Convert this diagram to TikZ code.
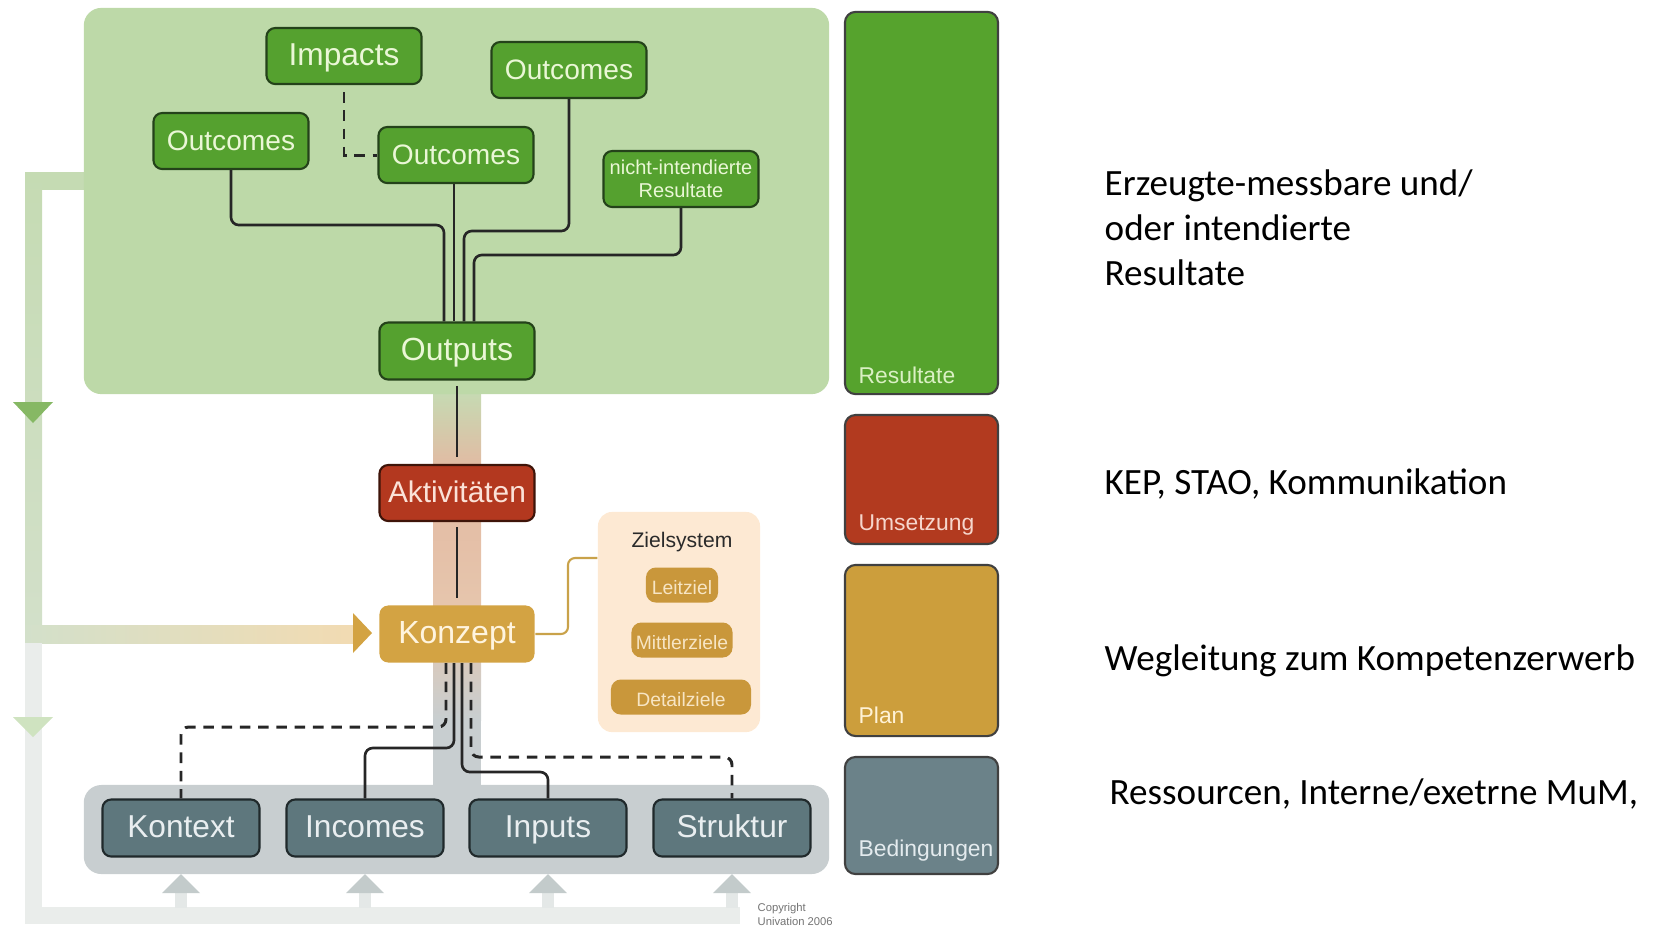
\documentclass[tikz,border=0pt]{standalone}
\usepackage{fontspec}
\setmainfont{Liberation Sans}
\newfontfamily\carl{Carlito}
\usetikzlibrary{calc}
\definecolor{panelG}{HTML}{BDD9A8}
\definecolor{boxG}{HTML}{55A12F}
\definecolor{boxGd}{HTML}{24421A}
\definecolor{txtG}{HTML}{EAF7D6}
\definecolor{redB}{HTML}{B3381F}
\definecolor{redD}{HTML}{3E1409}
\definecolor{txtR}{HTML}{FBE2D8}
\definecolor{tanB}{HTML}{D3A343}
\definecolor{txtT}{HTML}{FFF4DE}
\definecolor{zielBg}{HTML}{FDE9D3}
\definecolor{zielBox}{HTML}{C9973B}
\definecolor{txtZ}{HTML}{F7E5C4}
\definecolor{slateB}{HTML}{5E777D}
\definecolor{slateD}{HTML}{20292B}
\definecolor{txtS}{HTML}{E9EEF0}
\definecolor{grayP}{HTML}{C8CED0}
\definecolor{colRes}{HTML}{56A32D}
\definecolor{colUms}{HTML}{B23A1F}
\definecolor{colPlan}{HTML}{CC9E3C}
\definecolor{colBed}{HTML}{6B8289}
\definecolor{lblRes}{HTML}{DAF0C4}
\definecolor{lblUms}{HTML}{F6D6CC}
\definecolor{lblPlan}{HTML}{FFF2D6}
\definecolor{lblBed}{HTML}{E4EBEE}
\definecolor{bandG}{HTML}{C5DBB3}
\definecolor{bandG2}{HTML}{D3E0CA}
\definecolor{bandT}{HTML}{F2DBB2}
\definecolor{bandL}{HTML}{EAEDEB}
\definecolor{triG}{HTML}{86B864}
\definecolor{triG2}{HTML}{CFE3C0}
\definecolor{triS}{HTML}{C3CBCB}
\definecolor{stemS}{HTML}{E4E8E7}
\definecolor{salmon}{HTML}{E3B9A2}
\definecolor{salmon2}{HTML}{E6C6AD}
\definecolor{zline}{HTML}{C9A24A}
\definecolor{txtDark}{HTML}{2A2A2A}
\begin{document}
\begin{tikzpicture}[x=0.01cm,y=-0.01cm,
  tcenter/.style={text height=0.72em, text depth=0.16em},
  gbase/.style={draw=boxGd, line width=0.6pt, fill=boxG, text=txtG, rounded corners=2.5pt,
    minimum width=1.55cm, minimum height=0.56cm, inner sep=0pt, align=center},
  gbox/.style={gbase, tcenter},
  rbox/.style={draw=redD, line width=0.6pt, fill=redB, text=txtR, rounded corners=2.5pt,
    minimum width=1.55cm, minimum height=0.56cm, inner sep=0pt, tcenter},
  tbox/.style={fill=tanB, text=txtT, rounded corners=2.5pt,
    minimum width=1.55cm, minimum height=0.57cm, inner sep=0pt, tcenter},
  sbox/.style={draw=slateD, line width=0.6pt, fill=slateB, text=txtS, rounded corners=2.5pt,
    minimum width=1.57cm, minimum height=0.57cm, inner sep=0pt, tcenter, font=\fontsize{9}{10}\selectfont},
  zbox/.style={fill=zielBox, text=txtZ, rounded corners=2.8pt, minimum height=0.35cm,
    inner sep=0pt, tcenter, font=\fontsize{5.5}{6}\selectfont},
  colbox/.style={draw=black!75, line width=0.6pt, rounded corners=3pt, minimum width=1.53cm, inner sep=0pt},
  collbl/.style={anchor=west, inner sep=0pt, font=\fontsize{6.5}{7}\selectfont},
  conn/.style={draw=black!85, line width=0.75pt, rounded corners=2.2pt},
  dconn/.style={draw=black!85, line width=0.85pt, dash pattern=on 3pt off 2.2pt, rounded corners=2.2pt},
  zconn/.style={draw=zline, line width=0.6pt, rounded corners=2pt},
  rtext/.style={anchor=west, inner sep=0pt, align=left, font=\carl\fontsize{10.55}{12.8}\selectfont}
]
\useasboundingbox (0,0) rectangle (1656,926);

% ---- feedback band (left) ----
\fill[bandG] (25,172) rectangle (90,190);
\shade[top color=bandG, bottom color=bandG2] (25,172) rectangle (42,643);
\shade[left color=bandG2, right color=bandT] (25,625) rectangle (356,643);
\fill[bandL] (25,643) rectangle (42,924);
\fill[bandL] (25,907) rectangle (740,924);
\foreach \cx in {181,365,548,732}{
  \fill[stemS] (\cx-6,890) rectangle (\cx+6,908);
  \fill[triS] (\cx-19,893) -- (\cx+19,893) -- (\cx,874) -- cycle;
}
\fill[triG] (13,402) -- (53,402) -- (33,423) -- cycle;
\fill[triG2] (13,717) -- (53,717) -- (33,737) -- cycle;
\fill[tanB] (353,613) -- (372,633) -- (353,653) -- cycle;

% ---- central band ----
\shade[top color=bandG, bottom color=salmon] (433,390) rectangle (481,470);
\shade[top color=salmon, bottom color=salmon2] (433,470) rectangle (481,610);
\shade[top color=salmon2, bottom color=grayP] (433,610) rectangle (481,720);
\fill[grayP] (433,720) rectangle (481,790);

% ---- panels ----
\node[fill=panelG, rounded corners=5pt, minimum width=7.45cm, minimum height=3.86cm, inner sep=0pt] (gpanel) at (456.5,201) {};
\node[fill=grayP, rounded corners=5pt, minimum width=7.45cm, minimum height=0.89cm, inner sep=0pt] (spanel) at (456.5,829.5) {};
\node[fill=zielBg, rounded corners=4pt, minimum width=1.62cm, minimum height=2.2cm, inner sep=0pt] (ziel) at (679,622) {};

% ---- result nodes ----
\node[gbox, font=\fontsize{9}{10}\selectfont] (impacts) at (344,56) {Impacts};
\node[gbox, font=\fontsize{8}{9}\selectfont] (ocTR) at (569,70) {Outcomes};
\node[gbox, font=\fontsize{8}{9}\selectfont] (ocL) at (231,141) {Outcomes};
\node[gbox, font=\fontsize{8}{9}\selectfont] (ocM) at (456,155) {Outcomes};
\node[gbase, font=\fontsize{5.7}{6.6}\selectfont] (nicht) at (681,179) {nicht-intendierte\\Resultate};
\node[gbox, font=\fontsize{9.1}{10}\selectfont, minimum height=0.57cm] (outputs) at (457,351) {Outputs};
\node[rbox, font=\fontsize{8.5}{10}\selectfont] (aktiv) at (457,493) {Aktivitäten};
\node[tbox, font=\fontsize{9.1}{10}\selectfont] (konzept) at (457,634) {Konzept};

% ---- Zielsystem ----
\node[text=txtDark, font=\fontsize{6}{7}\selectfont, inner sep=0pt] (zieltitle) at (682,542) {Zielsystem};
\node[zbox, minimum width=0.72cm] (leitziel) at (682,585) {Leitziel};
\node[zbox, minimum width=1.01cm] (mittler) at (682,640) {Mittlerziele};
\node[zbox, minimum width=1.40cm] (detail) at (681,697) {Detailziele};

% ---- bottom nodes ----
\node[sbox] (kontext) at (181,828) {Kontext};
\node[sbox] (incomes) at (365,828) {Incomes};
\node[sbox] (inputs) at (548,828) {Inputs};
\node[sbox] (struktur) at (732,828) {Struktur};

% ---- connectors (top tree) ----
\draw[dconn, shorten <=2pt, rounded corners=0pt] (impacts.south) |- (ocM.west);
\draw[conn] (ocL.south) |- (444,225) -- (444,0 |- outputs.north);
\draw[conn] (454,0 |- ocM.south) -- (454,0 |- outputs.north);
\draw[conn] (ocTR.south) |- (464,231) -- (464,0 |- outputs.north);
\draw[conn] (nicht.south) |- (474,255) -- (474,0 |- outputs.north);

% ---- central chain ----
\draw[conn, shorten <=1.5pt, shorten >=2pt] (outputs.south) -- (aktiv.north);
\draw[conn, shorten <=1.5pt, shorten >=2pt] (aktiv.south) -- (konzept.north);

% ---- bottom connectors ----
\draw[dconn] (446,0 |- konzept.south) |- (181,727) -- (kontext.north);
\draw[conn] (454,0 |- konzept.south) |- (365,748) -- (incomes.north);
\draw[conn] (462,0 |- konzept.south) |- (548,772) -- (inputs.north);
\draw[dconn] (471,0 |- konzept.south) |- (732,757) -- (struktur.north);

% ---- Zielsystem connector ----
\draw[zconn] (konzept.east) -- (568,634) |- (ziel.west |- 0,558);

% ---- right column ----
\node[colbox, fill=colRes, minimum height=3.82cm] (cres) at (921.5,203) {};
\node[colbox, fill=colUms, minimum height=1.29cm] (cums) at (921.5,479.5) {};
\node[colbox, fill=colPlan, minimum height=1.71cm] (cplan) at (921.5,650.5) {};
\node[colbox, fill=colBed, minimum height=1.17cm] (cbed) at (921.5,815.5) {};
\node[collbl, text=lblRes] (lres) at (858,375) {Resultate};
\node[collbl, text=lblUms] (lums) at (858,525) {Umsetzung};
\node[collbl, text=lblPlan] (lplan) at (858,715) {Plan};
\node[collbl, text=lblBed] (lbed) at (858,851) {Bedingungen};

% ---- right texts ----
\node[rtext] (t1) at (1104,228) {Erzeugte-messbare und/\\oder intendierte\\Resultate};
\node[rtext] (t2) at (1104,484) {KEP, STAO, Kommunikation};
\node[rtext] (t3) at (1104,661) {Wegleitung zum Kompetenzerwerb};
\node[rtext] (t4) at (1109,794) {Ressourcen, Interne/exetrne MuM,};

% ---- copyright ----
\node[anchor=north west, align=left, inner sep=0pt, text=black!55, font=\fontsize{3.2}{4}\selectfont] (copy) at (757,903) {Copyright\\Univation 2006};
\end{tikzpicture}
\end{document}
